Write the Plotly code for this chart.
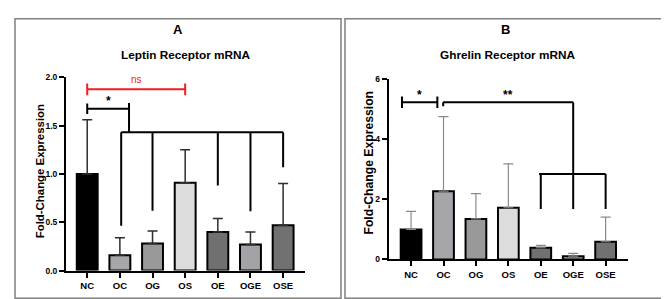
import plotly.graph_objects as go

# ---------------- data ----------------
groups = ["NC", "OC", "OG", "OS", "OE", "OGE", "OSE"]
bar_colors = ["#000000", "#a6a6aa", "#999999", "#dcdcdc", "#707070", "#a3a3a7", "#717171"]

leptin_mean = [1.00, 0.16, 0.28, 0.91, 0.40, 0.27, 0.47]
leptin_sd = [0.56, 0.18, 0.13, 0.34, 0.14, 0.13, 0.43]

ghrelin_mean = [1.00, 2.27, 1.35, 1.72, 0.39, 0.11, 0.59]
ghrelin_sd = [0.60, 2.48, 0.84, 1.46, 0.08, 0.09, 0.82]

leptin_ticks = [0.0, 0.5, 1.0, 1.5, 2.0]
ghrelin_ticks = [0, 2, 4, 6]

# significance brackets (data units: x = group index, y = fold change)
# each: list of polyline segments [(x0, y0, x1, y1), ...]
leptin_ns = [(0, 1.875, 3, 1.875), (0, 1.815, 0, 1.935), (3, 1.815, 3, 1.935)]
leptin_star = [(0, 1.675, 1.28, 1.675), (0, 1.62, 0, 1.73), (1.28, 1.735, 1.28, 1.43)]
leptin_group = [(1.04, 1.43, 6, 1.43), (1.04, 1.43, 1.04, 0.465), (2, 1.43, 2, 0.62),
                (4, 1.43, 4, 0.88), (5, 1.43, 5, 0.615), (6, 1.43, 6, 1.07)]
ghrelin_star = [(-0.28, 5.23, 0.81, 5.23), (-0.28, 5.04, -0.28, 5.42), (0.81, 5.04, 0.81, 5.42)]
ghrelin_group = [(0.99, 5.23, 5, 5.23), (0.99, 5.23, 0.99, 5.1), (5, 5.23, 5, 2.84),
                 (3.95, 2.84, 6, 2.84), (4, 2.84, 4, 1.68), (5, 2.84, 5, 1.68), (6, 2.84, 6, 1.68)]

# ---------------- figure ----------------
W, H = 669, 299
FONT = "Liberation Sans, Arial, sans-serif"


def px_x(v):
    return v / W


def px_y(v):
    return (H - v) / H


fig = go.Figure()

fig.add_trace(go.Bar(
    x=groups, y=leptin_mean, width=0.64,
    marker=dict(color=bar_colors, line=dict(color="black", width=2)),
    error_y=dict(type="data", symmetric=False, array=leptin_sd, arrayminus=[0] * len(groups),
                 color="#2e2e2e", thickness=1.5, width=5),
    xaxis="x", yaxis="y", hoverinfo="skip",
))
fig.add_trace(go.Bar(
    x=groups, y=ghrelin_mean, width=0.64,
    marker=dict(color=bar_colors, line=dict(color="black", width=2)),
    error_y=dict(type="data", symmetric=False, array=ghrelin_sd, arrayminus=[0] * len(groups),
                 color="#8a8a8a", thickness=1.2, width=5),
    xaxis="x2", yaxis="y2", hoverinfo="skip",
))

shapes = []


def add_segments(segs, xref, yref, color):
    for (x0, y0, x1, y1) in segs:
        shapes.append(dict(type="line", xref=xref, yref=yref, x0=x0, y0=y0, x1=x1, y1=y1,
                           line=dict(color=color, width=2)))


add_segments(leptin_ns, "x", "y", "#f01e1e")
add_segments(leptin_star, "x", "y", "black")
add_segments(leptin_group, "x", "y", "black")
add_segments(ghrelin_star, "x2", "y2", "black")
add_segments(ghrelin_group, "x2", "y2", "black")

# panel frames
for x0, x1 in [(7, 333), (337, 660)]:
    shapes.append(dict(type="rect", xref="paper", yref="paper",
                       x0=px_x(x0), x1=px_x(x1), y0=px_y(295), y1=px_y(6),
                       line=dict(color="#808080", width=1.5)))

annotations = []


def txt(text, x, y, size, xref="paper", yref="paper", bold=True, color="black", angle=0):
    annotations.append(dict(text=text, x=x, y=y, xref=xref, yref=yref, showarrow=False,
                            xanchor="center", yanchor="middle", textangle=angle,
                            font=dict(family=FONT, size=size, color=color,
                                      weight="bold" if bold else "normal")))


txt("A", px_x(170), px_y(17), 13)
txt("Leptin Receptor mRNA", px_x(177.5), px_y(43), 11.8)
txt("B", px_x(497.5), px_y(17), 13)
txt("Ghrelin Receptor mRNA", px_x(500), px_y(43), 11.8)
txt("Fold-Change Expression", px_x(31.7), px_y(164), 11.4, angle=-90)
txt("Fold-Change Expression", px_x(360.7), px_y(155), 12.2, angle=-90)
txt("ns", 1.5, 1.975, 10, xref="x", yref="y", bold=False, color="#f01e1e")
txt("*", 0.64, 1.75, 12, xref="x", yref="y")
txt("*", 0.27, 5.47, 12, xref="x2", yref="y2")
txt("**", 3.0, 5.47, 12, xref="x2", yref="y2")

axis_common = dict(showline=True, linecolor="black", linewidth=2, ticks="outside",
                   ticklen=5, tickwidth=2, tickcolor="black", showgrid=False, zeroline=False,
                   fixedrange=True)
tickfont_x = dict(family=FONT, size=9.5, color="black", weight="bold")
tickfont_y = dict(family=FONT, size=8.5, color="black", weight="bold")

fig.update_layout(
    width=W, height=H, margin=dict(l=0, r=0, t=0, b=0),
    paper_bgcolor="white", plot_bgcolor="white", showlegend=False,
    xaxis=dict(domain=[px_x(58), px_x(297)], anchor="y", type="category",
               range=[-0.65, 6.67], tickfont=tickfont_x, **axis_common),
    yaxis=dict(domain=[px_y(266.5), px_y(66.5)], anchor="x", range=[0, 2.0],
               tickvals=leptin_ticks, tickformat=".1f", tickfont=tickfont_y, **axis_common),
    xaxis2=dict(domain=[px_x(380.7), px_x(620)], anchor="y2", type="category",
                range=[-0.69, 6.69], tickfont=tickfont_x, **axis_common),
    yaxis2=dict(domain=[px_y(255), px_y(68.4)], anchor="x2", range=[0, 6],
                tickvals=ghrelin_ticks, tickformat="d", tickfont=tickfont_y, **axis_common),
    shapes=shapes, annotations=annotations,
)

fig.write_html("out.html")
